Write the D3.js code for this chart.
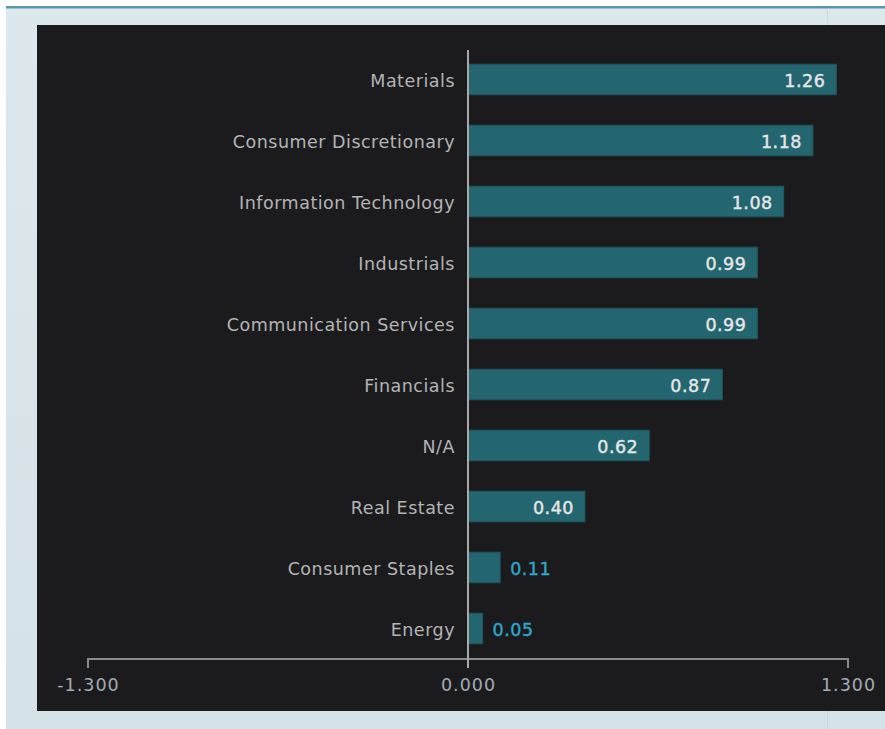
<!DOCTYPE html>
<html>
<head>
<meta charset="utf-8">
<script src="https://cdn.jsdelivr.net/npm/d3@7"></script>
<style>
  html, body { margin: 0; padding: 0; background: #ffffff; }
  svg { display: block; }
</style>
</head>
<body>
<svg id="chart" width="885" height="729"></svg>
<script>
// Sector values
const categories = [
  "Materials", "Consumer Discretionary", "Information Technology", "Industrials",
  "Communication Services", "Financials", "N/A", "Real Estate",
  "Consumer Staples", "Energy"
];
const values = [1.26, 1.18, 1.08, 0.99, 0.99, 0.87, 0.62, 0.40, 0.11, 0.05];
const axisTicks = [-1.3, 0, 1.3];

const font = "'DejaVu Sans', sans-serif";
const svg = d3.select("#chart");

// page frame: light panel with a teal rule on top
const bg = svg.append("defs").append("linearGradient")
  .attr("id", "panelGrad").attr("x1", 0).attr("y1", 0).attr("x2", 0).attr("y2", 1);
bg.append("stop").attr("offset", "0%").attr("stop-color", "#dde8ec");
bg.append("stop").attr("offset", "100%").attr("stop-color", "#d5e2e7");

svg.append("rect").attr("x", 6).attr("y", 6).attr("width", 879).attr("height", 723)
  .attr("fill", "url(#panelGrad)");
svg.append("rect").attr("x", 6).attr("y", 6).attr("width", 879).attr("height", 2.5)
  .attr("fill", "#5b98a7");
svg.append("line").attr("x1", 827.5).attr("x2", 827.5).attr("y1", 8).attr("y2", 729)
  .attr("stroke", "#c6d6dc").attr("stroke-width", 1);

// dark chart card
svg.append("rect").attr("x", 37).attr("y", 25).attr("width", 848).attr("height", 686)
  .attr("fill", "#1b1b1d");

const x = d3.scaleLinear().domain([-1.3, 1.3]).range([88, 848]);
const y = d3.scaleBand().domain(categories).range([49, 659])
  .paddingInner(0.5).paddingOuter(0.25);

const data = categories.map((c, i) => ({ cat: c, val: values[i] }));

// bars
svg.append("g").selectAll("rect").data(data).join("rect")
  .attr("x", d => x(Math.min(0, d.val)))
  .attr("y", d => y(d.cat))
  .attr("width", d => Math.abs(x(d.val) - x(0)))
  .attr("height", y.bandwidth())
  .attr("fill", "#24666f")
  .attr("stroke", "#1f5860").attr("stroke-width", 1);

// bottom axis with end ticks only at the extremes
const axisY = 659;
const axis = d3.axisBottom(x).tickValues(axisTicks)
  .tickFormat(d => d3.format(".3f")(d).replace("\u2212", "-"))
  .tickSize(0).tickPadding(0);
const ag = svg.append("g").attr("transform", `translate(0,${axisY})`).call(axis);
ag.select(".domain").remove();
ag.selectAll(".tick line").remove();
ag.selectAll(".tick text")
  .attr("y", 20)
  .attr("fill", "#a3abb3")
  .attr("font-family", font).attr("font-size", 17.5)
  .attr("letter-spacing", 1);
svg.append("path")
  .attr("d", `M${x(-1.3)},${axisY + 9}V${axisY}H${x(1.3)}V${axisY + 9}`)
  .attr("fill", "none").attr("stroke", "#8a8a8a").attr("stroke-width", 2);

// zero line
svg.append("line")
  .attr("x1", x(0)).attr("x2", x(0)).attr("y1", 50).attr("y2", 668)
  .attr("stroke", "#a8a8a8").attr("stroke-width", 2);

// category labels
svg.append("g").selectAll("text").data(data).join("text")
  .attr("x", x(0) - 13)
  .attr("y", d => y(d.cat) + y.bandwidth() / 2)
  .attr("dy", "0.45em")
  .attr("text-anchor", "end")
  .attr("fill", "#b4b4b4")
  .attr("font-family", font).attr("font-size", 17.5)
  .attr("letter-spacing", 0.5)
  .text(d => d.cat);

// value labels: inside long bars, outside short ones
const fmt = d3.format(".2f");
svg.append("g").selectAll("text").data(data).join("text")
  .attr("x", d => d.val >= 0.3 ? x(d.val) - 11 : x(d.val) + 10)
  .attr("y", d => y(d.cat) + y.bandwidth() / 2)
  .attr("dy", "0.42em")
  .attr("text-anchor", d => d.val >= 0.3 ? "end" : "start")
  .attr("fill", d => d.val >= 0.3 ? "#e6e6e6" : "#2fa6cc")
  .attr("stroke", d => d.val >= 0.3 ? "#e6e6e6" : "#2fa6cc")
  .attr("stroke-width", 0.4)
  .attr("font-family", font).attr("font-size", 17.5)
  .attr("letter-spacing", 0.5)
  .text(d => fmt(d.val));
</script>
</body>
</html>
